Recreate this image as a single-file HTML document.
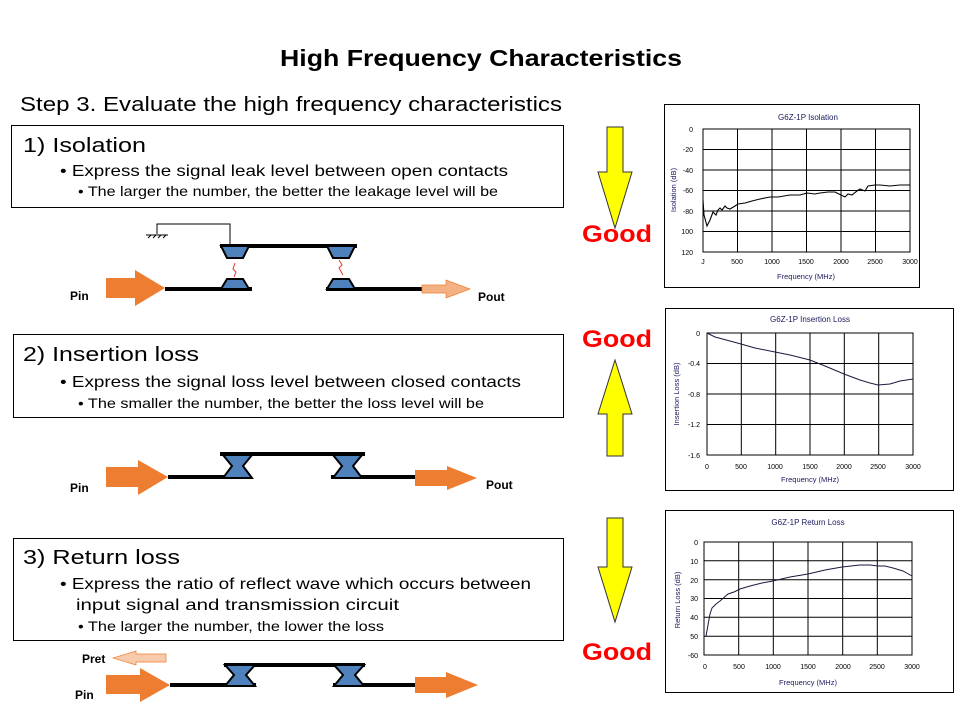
<!DOCTYPE html>
<html><head><meta charset="utf-8"><style>
html,body{margin:0;padding:0;background:#fff}
svg{display:block;font-family:"Liberation Sans",sans-serif}
</style></head><body>
<svg width="960" height="720" viewBox="0 0 960 720" xmlns="http://www.w3.org/2000/svg">
<rect width="960" height="720" fill="#fff"/>
<text x="280" y="66" font-size="23" font-weight="bold" textLength="402" lengthAdjust="spacingAndGlyphs">High Frequency Characteristics</text>
<text x="20" y="111" font-size="20" textLength="542" lengthAdjust="spacingAndGlyphs">Step 3. Evaluate the high frequency characteristics</text>

<!-- boxes -->
<rect x="11.5" y="125.5" width="552" height="82" fill="none" stroke="#000"/>
<text x="23" y="152" font-size="20" textLength="123" lengthAdjust="spacingAndGlyphs">1)  Isolation</text>
<text x="60" y="176" font-size="16" textLength="448" lengthAdjust="spacingAndGlyphs">• Express the signal leak level between open contacts</text>
<text x="78" y="196" font-size="14" textLength="420" lengthAdjust="spacingAndGlyphs">• The larger the number, the better the leakage level will be</text>

<rect x="13.5" y="334.5" width="550" height="83" fill="none" stroke="#000"/>
<text x="23" y="361" font-size="20" textLength="176" lengthAdjust="spacingAndGlyphs">2)  Insertion loss</text>
<text x="60" y="387" font-size="16" textLength="461" lengthAdjust="spacingAndGlyphs">• Express the signal loss level between closed contacts</text>
<text x="78" y="408" font-size="14" textLength="406" lengthAdjust="spacingAndGlyphs">• The smaller the number, the better the loss level will be</text>

<rect x="13.5" y="538.5" width="550" height="102" fill="none" stroke="#000"/>
<text x="23" y="564" font-size="20" textLength="157" lengthAdjust="spacingAndGlyphs">3)  Return loss</text>
<text x="60" y="589" font-size="16" textLength="471" lengthAdjust="spacingAndGlyphs">• Express the ratio of reflect wave which occurs between</text>
<text x="76" y="610" font-size="16" textLength="323" lengthAdjust="spacingAndGlyphs">input signal and transmission circuit</text>
<text x="78" y="631" font-size="14" textLength="306" lengthAdjust="spacingAndGlyphs">• The larger the number, the lower the loss</text>

<!-- yellow arrows -->
<g fill="#ffff00" stroke="#333" stroke-width="1">
<polygon points="607,127 623,127 623,172 632,172 615,228 598,172 607,172"/>
<polygon points="607,456 623,456 623,414 632,414 615,360 598,414 607,414"/>
<polygon points="607,518 623,518 623,567 632,567 615,622 598,567 607,567"/>
</g>
<g fill="#ff0000" font-size="24" font-weight="bold">
<text x="582" y="242" textLength="70" lengthAdjust="spacingAndGlyphs">Good</text>
<text x="582" y="347" textLength="70" lengthAdjust="spacingAndGlyphs">Good</text>
<text x="582" y="660" textLength="70" lengthAdjust="spacingAndGlyphs">Good</text>
</g>

<!-- diagram 1 -->
<polygon points="106,278 135,278 135,270 165,288 135,306 135,298 106,298" fill="#ed7d31"/>
<line x1="165" y1="289" x2="252" y2="289" stroke="#000" stroke-width="4"/>
<line x1="220" y1="246" x2="357" y2="246" stroke="#000" stroke-width="4"/>
<line x1="326" y1="289" x2="422" y2="289" stroke="#000" stroke-width="4"/>
<g fill="#4f81bd" stroke="#000" stroke-width="2">
<polygon points="221,246 249,246 243,258 227,258"/>
<polygon points="327,246 355,246 349,258 333,258"/>
<polygon points="227,279 243,279 249,289 221,289"/>
<polygon points="333,279 349,279 355,289 327,289"/>
</g>
<path d="M230 245 V224 H157 V234" fill="none" stroke="#000" stroke-width="1"/>
<path d="M146 235 H168 M148 238 l3 -3 M153 238 l3 -3 M158 238 l3 -3 M163 238 l3 -3" stroke="#000" stroke-width="1"/>
<path d="M234 277 l2 -5 l-3 -3 l2 -6" fill="none" stroke="#e33" stroke-width="1"/>
<path d="M339 260 l3 5 l-3 3 l4 7" fill="none" stroke="#e33" stroke-width="1"/>
<polygon points="422,285 446,285 446,280 470,289 446,298 446,293 422,293" fill="#f4b183" stroke="#ed7d31" stroke-width="0.7"/>
<text x="70" y="300" font-size="12" font-weight="bold">Pin</text>
<text x="478" y="301" font-size="12" font-weight="bold">Pout</text>

<!-- diagram 2 -->
<polygon points="106,467 138,467 138,460 168,477 138,495 138,487 106,487" fill="#ed7d31"/>
<line x1="168" y1="477" x2="232" y2="477" stroke="#000" stroke-width="4"/>
<line x1="220" y1="454" x2="365" y2="454" stroke="#000" stroke-width="4"/>
<line x1="331" y1="477" x2="416" y2="477" stroke="#000" stroke-width="4"/>
<g fill="#4f81bd" stroke="#000" stroke-width="2">
<polygon points="223,455 252,455 243,466 252,478 223,478 232,466"/>
<polygon points="333,455 362,455 353,466 362,478 333,478 342,466"/>
</g>
<polygon points="415,470 447,470 447,466 477,478 447,490 447,486 415,486" fill="#ed7d31"/>
<text x="70" y="492" font-size="12" font-weight="bold">Pin</text>
<text x="486" y="489" font-size="12" font-weight="bold">Pout</text>

<!-- diagram 3 -->
<text x="82" y="663" font-size="12" font-weight="bold">Pret</text>
<polygon points="166,654 136,654 136,651 113,658 136,665 136,662 166,662" fill="#f8cbad" stroke="#ed7d31" stroke-width="0.7"/>
<polygon points="106,675 140,675 140,668 170,685 140,702 140,694 106,694" fill="#ed7d31"/>
<line x1="170" y1="685" x2="256" y2="685" stroke="#000" stroke-width="4"/>
<line x1="224" y1="665" x2="365" y2="665" stroke="#000" stroke-width="4"/>
<line x1="333" y1="685" x2="416" y2="685" stroke="#000" stroke-width="4"/>
<g fill="#4f81bd" stroke="#000" stroke-width="2">
<polygon points="225,665 255,665 246,675 255,686 225,686 234,675"/>
<polygon points="334,665 364,665 355,675 364,686 334,686 343,675"/>
</g>
<polygon points="415,677 446,677 446,672 478,685 446,698 446,693 415,693" fill="#ed7d31"/>
<text x="75" y="699" font-size="12" font-weight="bold">Pin</text>

<!-- chart 1 -->
<rect x="664.5" y="104.5" width="255" height="183" fill="#fff" stroke="#000"/>
<text x="808" y="120" text-anchor="middle" font-size="8" fill="#1a1a5e">G6Z-1P  Isolation</text>
<g stroke="#000" stroke-width="1" fill="none">
<rect x="703" y="129" width="207" height="123"/>
<path d="M737.5 129V252M772 129V252M806.5 129V252M841 129V252M875.5 129V252M703 149.5H910M703 170H910M703 190.5H910M703 211H910M703 231.5H910"/>
</g>
<polyline fill="none" stroke="#000" stroke-width="1.1" points="703,200 704,215 707,226 710,220 713,212 716,215 718,210 720,208 722,210 725,206 727,208 730,209 735,206 738,204 745,203 752,201 760,199 770,197 778,197 790,195 800,195 807,193 815,194 820,193 828,192 835,192 841,195 845,197 848,194 852,195 857,191 860,189 865,191 868,186 875,185 880,185 890,186 900,185 910,185"/>
<g font-size="7" fill="#000" text-anchor="end">
<text x="693" y="132">0</text><text x="693" y="152">-20</text><text x="693" y="173">-40</text><text x="693" y="193">-60</text><text x="693" y="214">-80</text><text x="693" y="234">100</text><text x="693" y="255">120</text>
</g>
<g font-size="7" fill="#000" text-anchor="middle">
<text x="703" y="264">J</text><text x="737" y="264">500</text><text x="772" y="264">1000</text><text x="806" y="264">1500</text><text x="841" y="264">2000</text><text x="875" y="264">2500</text><text x="910" y="264">3000</text>
</g>
<text x="806" y="279" text-anchor="middle" font-size="7.5" fill="#1a1a5e">Frequency (MHz)</text>
<text transform="translate(676,190) rotate(-90)" text-anchor="middle" font-size="7.5" fill="#1a1a5e">Isolation (dB)</text>

<!-- chart 2 -->
<rect x="665.5" y="308.5" width="288" height="182" fill="#fff" stroke="#000"/>
<text x="810" y="322" text-anchor="middle" font-size="8" fill="#1a1a5e">G6Z-1P  Insertion Loss</text>
<g stroke="#000" stroke-width="1" fill="none">
<rect x="707" y="333" width="206" height="122"/>
<path d="M741.3 333V455M775.7 333V455M810 333V455M844.3 333V455M878.7 333V455M707 363.5H913M707 394H913M707 424.5H913"/>
</g>
<polyline fill="none" stroke="#1a1a3e" stroke-width="1" points="707,333 715,337 730,341 741,344 755,348 775,352 790,355 810,360 825,366 844,374 860,380 870,383 878,385 890,384 900,381 913,379"/>
<g font-size="7" fill="#000" text-anchor="end">
<text x="700" y="336">0</text><text x="700" y="366">-0.4</text><text x="700" y="397">-0.8</text><text x="700" y="427">-1.2</text><text x="700" y="458">-1.6</text>
</g>
<g font-size="7" fill="#000" text-anchor="middle">
<text x="707" y="469">0</text><text x="741" y="469">500</text><text x="775" y="469">1000</text><text x="810" y="469">1500</text><text x="844" y="469">2000</text><text x="878" y="469">2500</text><text x="913" y="469">3000</text>
</g>
<text x="810" y="482" text-anchor="middle" font-size="7.5" fill="#1a1a5e">Frequency (MHz)</text>
<text transform="translate(679,394) rotate(-90)" text-anchor="middle" font-size="7.5" fill="#1a1a5e">Insertion Loss (dB)</text>

<!-- chart 3 -->
<rect x="665.5" y="510.5" width="288" height="182" fill="#fff" stroke="#000"/>
<text x="808" y="525" text-anchor="middle" font-size="8" fill="#1a1a5e">G6Z-1P  Return Loss</text>
<g stroke="#000" stroke-width="1" fill="none">
<rect x="704" y="542" width="208" height="113"/>
<path d="M738.7 542V655M773.3 542V655M808 542V655M842.7 542V655M877.3 542V655M704 560.8H912M704 579.7H912M704 598.5H912M704 617.3H912M704 636.2H912"/>
</g>
<polyline fill="none" stroke="#1a1a3e" stroke-width="1" points="706,636 708,625 710,614 712,608 716,604 720,601 728,594 734,592 740,589 750,586 762,583 773,581 790,577 808,574 825,570 842,567 860,565 870,565 878,566 885,566 893,568 903,571 912,576"/>
<g font-size="7" fill="#000" text-anchor="end">
<text x="698" y="545">0</text><text x="698" y="564">10</text><text x="698" y="583">20</text><text x="698" y="601">30</text><text x="698" y="620">40</text><text x="698" y="639">50</text><text x="698" y="658">-60</text>
</g>
<g font-size="7" fill="#000" text-anchor="middle">
<text x="705" y="669">0</text><text x="739" y="669">500</text><text x="773" y="669">1000</text><text x="808" y="669">1500</text><text x="843" y="669">2000</text><text x="877" y="669">2500</text><text x="912" y="669">3000</text>
</g>
<text x="808" y="685" text-anchor="middle" font-size="7.5" fill="#1a1a5e">Frequency (MHz)</text>
<text transform="translate(680,600) rotate(-90)" text-anchor="middle" font-size="7.5" fill="#1a1a5e">Return Loss (dB)</text>
</svg>
</body></html>
